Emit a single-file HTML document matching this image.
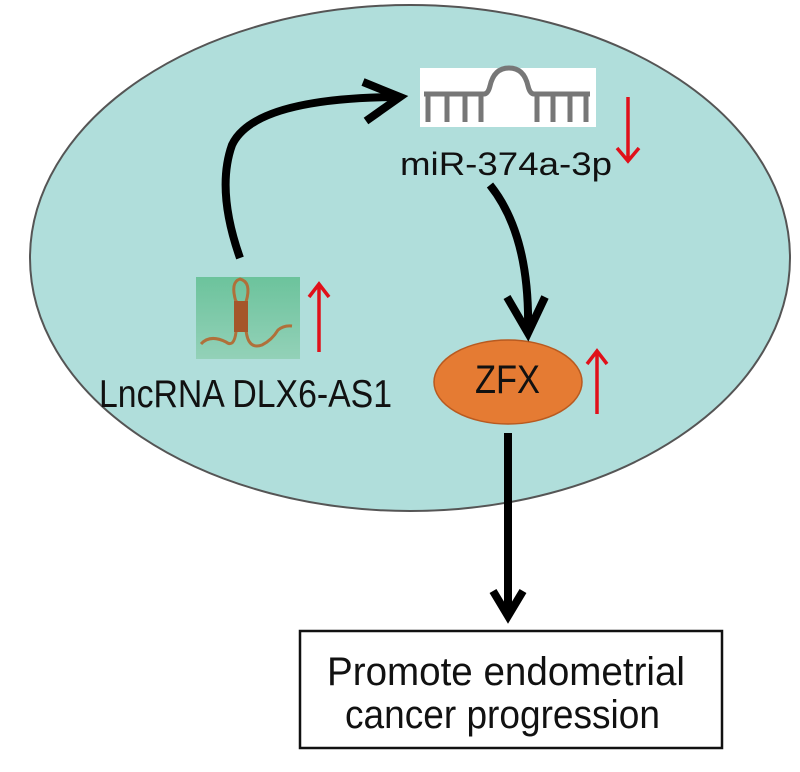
<!DOCTYPE html>
<html><head><style>
body{margin:0;background:#fff;}
svg text{font-family:"Liberation Sans",sans-serif;}
</style></head><body>
<svg width="800" height="767" viewBox="0 0 800 767" xmlns="http://www.w3.org/2000/svg">
<defs>
<linearGradient id="g" x1="0" y1="0" x2="0" y2="1"><stop offset="0" stop-color="#6cc39c"/><stop offset="1" stop-color="#93d1b8"/></linearGradient>
</defs>
<ellipse cx="410" cy="258" rx="380" ry="253" fill="#b0dedb" stroke="#555" stroke-width="2"/>
<!-- miRNA image -->
<rect x="420" y="68" width="176" height="59" fill="#fff"/>
<g stroke="#777" stroke-width="5" fill="none">
<path d="M424 94 H484 Q488 94 490 86 Q494 68 509 68 Q524 68 528 86 Q530 94 534 94 H590"/>
<path d="M428 94V122 M447 94V122 M465 94V122 M481 94V122 M537 94V122 M553 94V122 M570 94V122 M586 94V122"/>
</g>
<text x="400" y="175" font-size="32" textLength="212" lengthAdjust="spacingAndGlyphs" fill="#111">miR-374a-3p</text>
<!-- red arrows -->
<g stroke="#e0101a" stroke-width="3.5" fill="none">
<path d="M628 97V161 M617 148 L628 161 L639 148"/>
<path d="M319 352V284 M309 297 L319 284 L329 297"/>
<path d="M597 414V351 M587 364 L597 351 L607 364"/>
</g>
<!-- lnc image -->
<rect x="196" y="277" width="104" height="82" fill="url(#g)"/>
<g stroke="#b0703a" stroke-width="3" fill="none">
<path d="M201 344 Q210 334 226 342 Q234 348 236 332 V300"/>
<path d="M236 302 Q230 282 240 279 Q252 282 246 302"/>
<path d="M246 330 Q248 350 262 345 Q272 340 278 330 Q284 325 292 326"/>
</g>
<rect x="234" y="301" width="14" height="31" fill="#a5562a"/>
<text x="99" y="407" font-size="39" textLength="293" lengthAdjust="spacingAndGlyphs" fill="#111">LncRNA DLX6-AS1</text>
<!-- ZFX -->
<ellipse cx="508" cy="382" rx="74" ry="42" fill="#e57b33" stroke="#b85a20" stroke-width="1.5"/>
<text x="475" y="393" font-size="40" textLength="65" lengthAdjust="spacingAndGlyphs" fill="#111">ZFX</text>
<!-- black arrows -->
<g stroke="#000" stroke-width="8" fill="none" stroke-linejoin="miter">
<path d="M240 258 Q216 190 232 145 Q254 98 398 97"/>
<path d="M363 82 L400 97 L366 121" stroke-width="8"/>
<path d="M490 185 Q530 235 528 330"/>
<path d="M507 297 L528 333 L545 297" stroke-width="8"/>
<path d="M508 433 V612"/>
<path d="M493 591 L508 616 L523 591" stroke-width="8"/>
</g>
<rect x="300" y="631" width="422" height="117" fill="#fff" stroke="#111" stroke-width="2.5"/>
<text x="327" y="685" font-size="40" textLength="358" lengthAdjust="spacingAndGlyphs" fill="#111">Promote endometrial</text>
<text x="345" y="728" font-size="40" textLength="315" lengthAdjust="spacingAndGlyphs" fill="#111">cancer progression</text>
</svg>
</body></html>
